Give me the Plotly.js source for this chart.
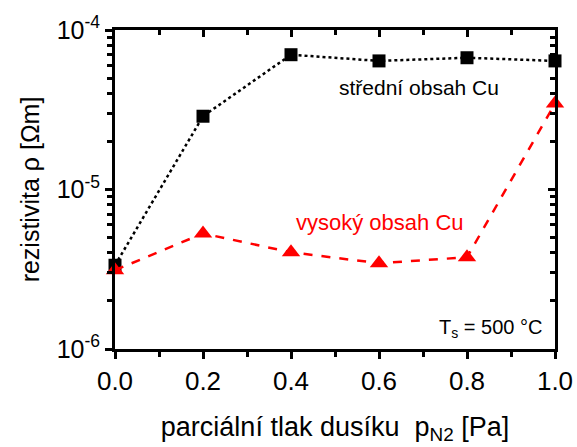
<!DOCTYPE html>
<html>
<head>
<meta charset="utf-8">
<script src="https://cdn.plot.ly/plotly-3.0.1.min.js"></script>
<style>body{margin:0;padding:0;background:#fff}#plot{width:577px;height:447px}</style>
</head>
<body>
<div id="plot"></div>
<script>
const pressure = [0.0, 0.2, 0.4, 0.6, 0.8, 1.0];
const stredni = [3.35e-6, 2.88e-5, 7.0e-5, 6.4e-5, 6.7e-5, 6.4e-5];
const vysoky = [3.12e-6, 5.3e-6, 4.04e-6, 3.45e-6, 3.76e-6, 3.46e-5];
const xTicks = [0.0, 0.2, 0.4, 0.6, 0.8, 1.0];
const xTickText = ['0.0', '0.2', '0.4', '0.6', '0.8', '1.0'];
const yTicks = [1e-6, 1e-5, 1e-4];
const yTickText = ['10<sup>-6</sup>', '10<sup>-5</sup>', '10<sup>-4</sup>'];

const FONT = 'Liberation Sans, Arial, sans-serif';

const traces = [
  {x: pressure, y: stredni, mode: 'lines+markers', name: 'střední obsah Cu',
   line: {color: '#000', dash: 'dot', width: 2.5},
   marker: {symbol: 'square', size: 13, color: '#000'}, cliponaxis: false},
  {x: pressure, y: vysoky, mode: 'lines+markers', name: 'vysoký obsah Cu',
   line: {color: '#ff0000', dash: 'dash', width: 2.5},
   marker: {symbol: 'triangle-up', size: 16, color: '#ff0000'}, cliponaxis: false},
  {x: [0.5], y: [1e-5], xaxis: 'x2', yaxis: 'y2', mode: 'markers',
   marker: {opacity: 0}, hoverinfo: 'skip', showlegend: false}
];

const layout = {
  width: 577, height: 447,
  margin: {l: 115, r: 22, t: 30, b: 98},
  showlegend: false,
  paper_bgcolor: '#fff', plot_bgcolor: '#fff',
  font: {family: FONT, color: '#000'},
  xaxis: {
    range: [0, 1], tickvals: xTicks, ticktext: xTickText,
    ticks: 'outside', ticklen: 7, tickwidth: 3, tickcolor: '#000',
    showline: true, linewidth: 3, linecolor: '#000', showgrid: false, zeroline: false,
    tickfont: {size: 26, family: FONT},
    minor: {tickvals: [0.1, 0.3, 0.5, 0.7, 0.9], ticks: 'outside', ticklen: 5, tickwidth: 3, tickcolor: '#000', showgrid: false},
    title: {text: 'parciální tlak dusíku  p<sub>N2</sub> [Pa]', font: {size: 27, family: FONT}, standoff: 22}
  },
  yaxis: {
    type: 'log', range: [-6, -4], tickvals: yTicks, ticktext: yTickText,
    ticks: 'outside', ticklen: 7, tickwidth: 3, tickcolor: '#000',
    showline: true, linewidth: 3, linecolor: '#000', showgrid: false, zeroline: false,
    tickfont: {size: 25, family: FONT},
    minor: {dtick: 'D1', ticks: 'outside', ticklen: 5, tickwidth: 3, tickcolor: '#000', showgrid: false},
    title: {text: 'rezistivita ρ [Ωm]', font: {size: 25, family: FONT}, standoff: 10}
  },
  xaxis2: {
    overlaying: 'x', side: 'top', anchor: 'y2', range: [0, 1], tickvals: xTicks,
    showticklabels: false, ticks: 'inside', ticklen: 7, tickwidth: 3, tickcolor: '#000',
    showline: true, linewidth: 3, linecolor: '#000', showgrid: false, zeroline: false,
    minor: {tickvals: [0.1, 0.3, 0.5, 0.7, 0.9], ticks: 'inside', ticklen: 5, tickwidth: 3, tickcolor: '#000', showgrid: false}
  },
  yaxis2: {
    overlaying: 'y', side: 'right', anchor: 'x2', type: 'log', range: [-6, -4], tickvals: yTicks,
    showticklabels: false, ticks: 'inside', ticklen: 7, tickwidth: 3, tickcolor: '#000',
    showline: true, linewidth: 3, linecolor: '#000', showgrid: false, zeroline: false,
    minor: {dtick: 'D1', ticks: 'inside', ticklen: 5, tickwidth: 3, tickcolor: '#000', showgrid: false}
  },
  annotations: [
    {xref: 'paper', yref: 'paper', x: 0.69, y: 0.82, xanchor: 'center', yanchor: 'middle',
     text: 'střední obsah Cu', showarrow: false, font: {size: 21, family: FONT, color: '#000'}},
    {xref: 'paper', yref: 'paper', x: 0.602, y: 0.395, xanchor: 'center', yanchor: 'middle',
     text: 'vysoký obsah Cu', showarrow: false, font: {size: 22, family: FONT, color: '#ff0000'}},
    {xref: 'paper', yref: 'paper', x: 0.975, y: 0.065, xanchor: 'right', yanchor: 'middle',
     text: 'T<sub>s</sub> = 500 °C', showarrow: false, font: {size: 20, family: FONT, color: '#000'}}
  ]
};

Plotly.newPlot('plot', traces, layout, {staticPlot: true, displayModeBar: false});
</script>
</body>
</html>
